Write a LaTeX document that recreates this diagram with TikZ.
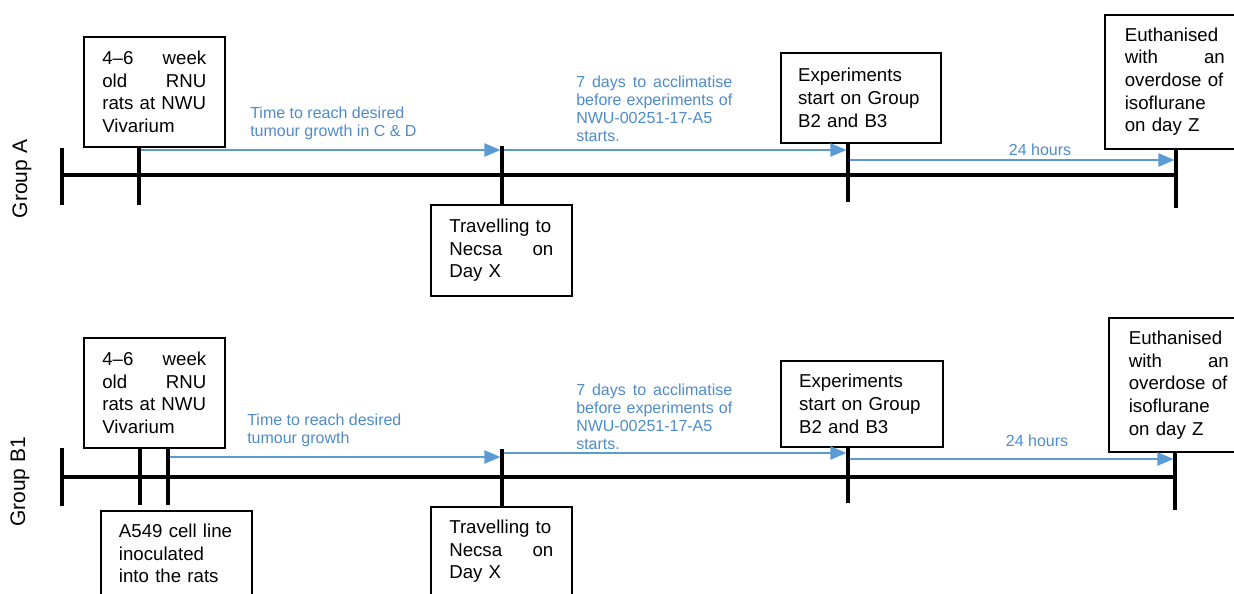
\documentclass[tikz,border=0pt]{standalone}
\usepackage{fontspec}
\setmainfont{Liberation Sans}
\usetikzlibrary{arrows.meta}
\definecolor{arrowblue}{HTML}{5B9BD5}
\definecolor{textblue}{HTML}{4E8BCB}

\begin{document}
\begin{tikzpicture}[x=0.75pt, y=-0.75pt,
  evbox/.style={draw=black, line width=1.2pt, anchor=north west, align=left,
    font=\fontsize{14}{17}\selectfont, inner ysep=9.75pt},
  bluelbl/.style={text=textblue, font=\fontsize{12}{13.5}\selectfont,
    align=left, inner sep=0pt, anchor=north west},
  bluearrow/.style={draw=arrowblue, line width=1pt,
    -{Triangle[length=12pt,width=10pt]}, shorten <=1.6pt, shorten >=1.2pt},
  timeline/.style={line width=2.5pt},
  tickline/.style={line width=2.5pt},
  grouplbl/.style={rotate=90, font=\fontsize{15.75}{18}\selectfont}]

  \useasboundingbox (0,0) rectangle (1234,593);

  % ---- Group A ----
  \node[grouplbl] (grpA) at (22,179) {Group A};

  \coordinate (a0) at (62,175);
  \coordinate (a1) at (139,175);
  \coordinate (a2) at (502,175);
  \coordinate (a3) at (848,175);
  \coordinate (a4) at (1176,175);
  \coordinate (fa1) at (0,150);
  \coordinate (fa2) at (0,160);

  \node[evbox, text width=78pt, minimum width=105.75pt, minimum height=82.5pt]
    (ratsA) at (83,36) {4–6\hfill week\\old\hfill RNU\\rats at NWU\\Vivarium};
  \node[evbox, text width=78pt, minimum width=105.75pt, minimum height=68.25pt]
    (travA) at (430,204) {Travelling to\\Necsa\hfill on\\Day X};
  \node[evbox, text width=94pt, minimum width=120pt, minimum height=67.5pt]
    (expA) at (780,52) {Experiments\\start on Group\\B2 and B3};
  \node[evbox, text width=75pt, minimum width=105pt, minimum height=99.75pt]
    (euthA) at (1104,14) {Euthanised\\with\hfill an\\overdose of\\isoflurane\\on day Z};

  % timeline and ticks
  \draw[timeline] (a0) -- (a4);
  \draw[tickline] (a0) ++(0,-27) -- ++(0,57);
  \draw[tickline] (ratsA.south -| a1) -- ++(0,57);
  \draw[tickline] (a2) ++(0,-29) -- (travA.north -| a2);
  \draw[tickline] (expA.south -| a3) -- ++(0,58);
  \draw[tickline] (euthA.south -| a4) -- ++(0,58);

  % durations
  \draw[bluearrow] (a1 |- fa1) -- (a2 |- fa1);
  \draw[bluearrow] (a2 |- fa1) -- (a3 |- fa1);
  \draw[bluearrow] (a3 |- fa2) -- (a4 |- fa2);
  \node[bluelbl] (growA) at (250,107) {Time to reach desired\\tumour growth in C \& D};
  \node[bluelbl, text width=117pt] (acclA) at (576,76)
    {7\hfill days\hfill to\hfill acclimatise\\before\hfill experiments\hfill of\\NWU-00251-17-A5\\starts.};
  \node[bluelbl, anchor=center] (hoursA) at (1040,150) {24 hours};

  % ---- Group B1 ----
  \node[grouplbl] (grpB) at (20,482) {Group B1};

  \coordinate (b0) at (62,477);
  \coordinate (b1) at (140,477);
  \coordinate (b2) at (168,477);
  \coordinate (b3) at (502,477);
  \coordinate (b4) at (848,477);
  \coordinate (b5) at (1175,477);
  \coordinate (fb1) at (0,457);
  \coordinate (fb2) at (0,453);
  \coordinate (fb3) at (0,459);

  \node[evbox, text width=78pt, minimum width=105.75pt, minimum height=82.5pt]
    (ratsB) at (83,337) {4–6\hfill week\\old\hfill RNU\\rats at NWU\\Vivarium};
  \node[evbox, text width=86pt, minimum width=113.25pt]
    (cellB) at (100,510) {A549 cell line\\inoculated\\into the rats\\ \mbox{}};
  \node[evbox, text width=78pt, minimum width=105.75pt]
    (travB) at (430,506) {Travelling to\\Necsa\hfill on\\Day X\\ \mbox{}};
  \node[evbox, text width=94pt, minimum width=121.5pt, minimum height=64.5pt]
    (expB) at (780,360) {Experiments\\start on Group\\B2 and B3};
  \node[evbox, text width=75pt, minimum width=105pt, minimum height=99pt]
    (euthB) at (1108,317) {Euthanised\\with\hfill an\\overdose of\\isoflurane\\on day Z};

  % timeline and ticks
  \draw[timeline] (b0) -- (b5);
  \draw[tickline] (b0) ++(0,-29) -- ++(0,58);
  \draw[tickline] (ratsB.south -| b1) -- ++(0,56);
  \draw[tickline] (ratsB.south -| b2) -- ++(0,56);
  \draw[tickline] (b3) ++(0,-28) -- (travB.north -| b3);
  \draw[tickline] (expB.south -| b4) -- ++(0,55);
  \draw[tickline] (euthB.south -| b5) -- ++(0,57);

  % durations
  \draw[bluearrow] (b2 |- fb1) -- (b3 |- fb1);
  \draw[bluearrow] (b3 |- fb2) -- (b4 |- fb2);
  \draw[bluearrow] (b4 |- fb3) -- (b5 |- fb3);
  \node[bluelbl] (growB) at (247,414) {Time to reach desired\\tumour growth};
  \node[bluelbl, text width=117pt] (acclB) at (576,384)
    {7\hfill days\hfill to\hfill acclimatise\\before\hfill experiments\hfill of\\NWU-00251-17-A5\\starts.};
  \node[bluelbl, anchor=center] (hoursB) at (1037,441) {24 hours};

\end{tikzpicture}
\end{document}
